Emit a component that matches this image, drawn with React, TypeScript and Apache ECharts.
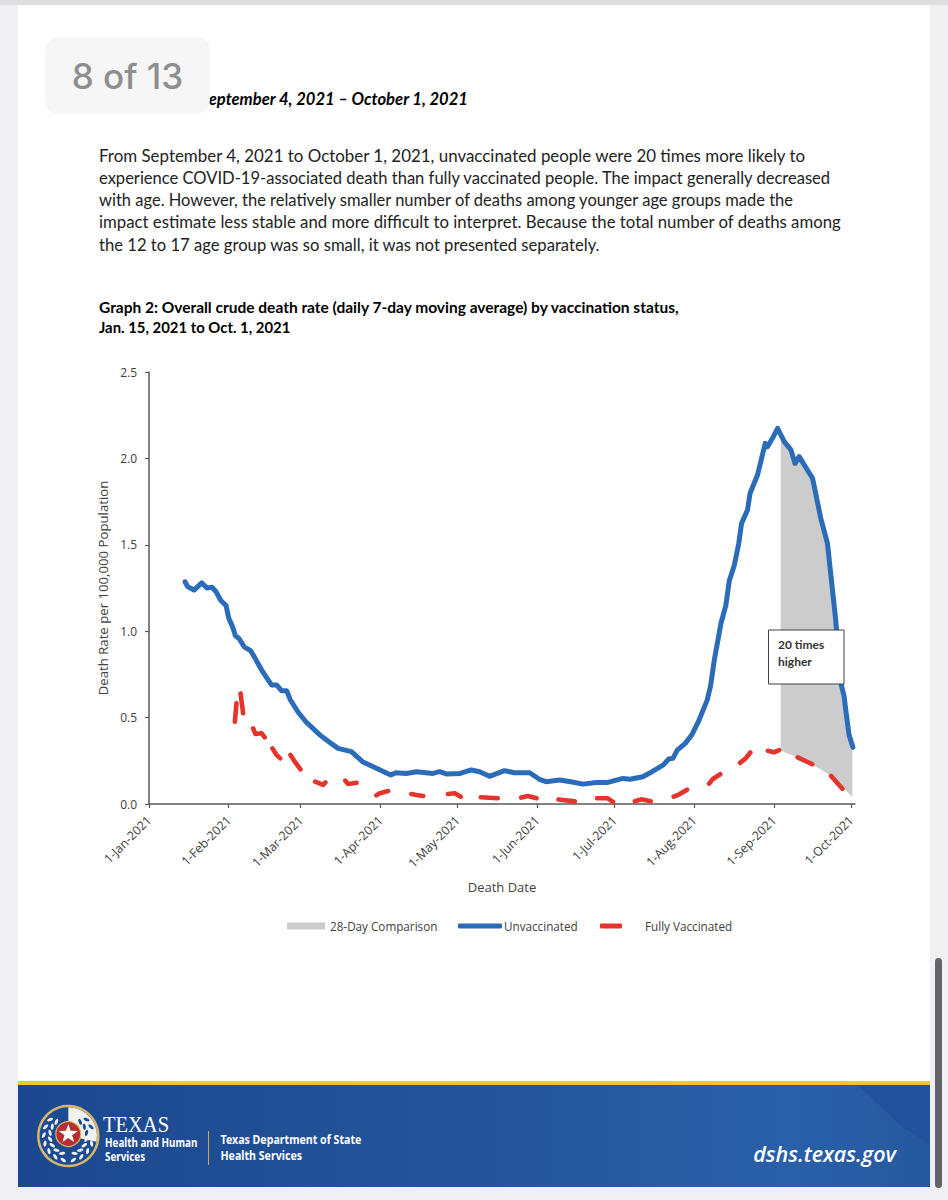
import React, { useEffect, useRef } from "react";
import * as echarts from "echarts";

// Days since 1 Jan 2021
const tickDays = [0, 31, 59, 90, 120, 151, 181, 212, 243, 273];
const tickLabels = ["1-Jan-2021", "1-Feb-2021", "1-Mar-2021", "1-Apr-2021", "1-May-2021", "1-Jun-2021", "1-Jul-2021", "1-Aug-2021", "1-Sep-2021", "1-Oct-2021"];
const unvaccinatedDays = [14, 15, 17.5, 20.5, 22.5, 24.5, 26, 28, 30, 31, 32.5, 33.6, 35, 37, 39.5, 41, 43.8, 47.6, 49.6, 51.5, 53.5, 55, 58, 61, 66.4, 69, 73.5, 78.7, 83, 88.4, 94, 96, 100, 104, 110.4, 113, 115.6, 121, 125.3, 128.5, 132.4, 138.2, 142, 148, 151.8, 154.4, 159.6, 164, 168.7, 174, 178.4, 184.3, 187, 192, 195.6, 200, 202, 203.7, 205.4, 208.5, 211, 213.6, 217, 218.3, 219.8, 222.4, 224.3, 225.6, 227.6, 229.3, 230.4, 232.7, 233.7, 236.6, 239.6, 240.5, 242.4, 244.4, 247, 249.6, 251.2, 252.8, 258, 261.2, 263.8, 267, 269, 270.3, 270.9, 272.2, 273.7];
const unvaccinatedRates = [1.286, 1.258, 1.238, 1.28, 1.25, 1.254, 1.23, 1.176, 1.148, 1.075, 1.026, 0.974, 0.958, 0.91, 0.887, 0.85, 0.775, 0.689, 0.689, 0.656, 0.656, 0.602, 0.531, 0.476, 0.4, 0.37, 0.322, 0.303, 0.245, 0.207, 0.168, 0.181, 0.177, 0.187, 0.177, 0.187, 0.174, 0.177, 0.197, 0.187, 0.16, 0.193, 0.181, 0.181, 0.143, 0.129, 0.139, 0.129, 0.115, 0.125, 0.125, 0.148, 0.143, 0.158, 0.187, 0.226, 0.26, 0.264, 0.312, 0.351, 0.399, 0.476, 0.6, 0.68, 0.833, 1.046, 1.15, 1.29, 1.383, 1.508, 1.624, 1.701, 1.798, 1.904, 2.087, 2.068, 2.116, 2.174, 2.097, 2.049, 1.971, 2.01, 1.885, 1.653, 1.508, 1.065, 0.7, 0.621, 0.544, 0.399, 0.328];
// The reference's dashes have an uneven rhythm, so each visible dash is read on its own; null marks a gap.
const vaccinatedDays = [33.4, 34, 34.8, 35.6, 36.6, 38.5, 40.5, 41.4, 43.8, 45, 46.5, 48, 49.6, 51, 53, 55, 56.7, 58.9, 61.5, 64.6, 67.7, 68.6, 72.5, 76.3, 77.4, 80.7, 84.5, 88.4, 89.7, 93, 97.5, 102, 104, 106.6, 111.5, 116.2, 118.9, 121.2, 125, 129, 135.6, 140, 144.7, 147.3, 150.7, 155, 159.2, 165.6, 170, 174.2, 178.4, 180.4, 184.5, 188.9, 191.4, 195.1, 199.5, 204, 206.2, 209.2, 213.5, 217.8, 219.1, 222.1, 226, 229.8, 232, 233.8, 237, 240.6, 243, 245, 248.5, 252.2, 257.9, 261.5, 265.2, 269.6];
const vaccinatedRates = [0.476, 0.583, null, 0.64, 0.525, null, 0.438, 0.405, 0.409, 0.386, null, 0.322, 0.284, 0.264, null, 0.284, 0.245, 0.2, null, 0.129, 0.11, 0.125, null, 0.135, 0.116, 0.123, null, 0.05, 0.062, 0.075, null, 0.058, 0.052, 0.046, null, 0.058, 0.062, 0.042, null, 0.039, 0.033, null, 0.037, 0.046, 0.033, null, 0.026, 0.015, null, 0.033, 0.033, 0.012, null, 0.016, 0.027, 0.016, null, 0.043, 0.056, 0.083, null, 0.118, 0.143, 0.172, null, 0.238, 0.264, 0.298, null, 0.308, 0.299, 0.312, null, 0.27, 0.23, null, 0.162, 0.088];
const comparisonDays = [245.6, 247, 249.6, 251.2, 252.8, 258, 261.2, 263.8, 267, 269, 270.3, 270.9, 272.2, 273.5];
const comparisonUpper = [2.13, 2.097, 2.049, 1.971, 2.01, 1.885, 1.653, 1.508, 1.065, 0.7, 0.621, 0.544, 0.399, 0.33];
const comparisonLower = [0.312, 0.3, 0.285, 0.274, 0.265, 0.226, 0.2, 0.175, 0.135, 0.1, 0.085, 0.078, 0.06, 0.039];
const bodyLines = [
  "From September 4, 2021 to October 1, 2021, unvaccinated people were 20 times more likely to",
  "experience COVID-19-associated death than fully vaccinated people. The impact generally decreased",
  "with age. However, the relatively smaller number of deaths among younger age groups made the",
  "impact estimate less stable and more difficult to interpret. Because the total number of deaths among",
  "the 12 to 17 age group was so small, it was not presented separately.",
];
const bodyLineY = [155.5, 177.5, 199.5, 221.5, 244.5];
const bodyLineScale = [1.004, 0.983, 0.98, 0.996, 0.988];

const BODY = "Lato, 'Open Sans', sans-serif";
const CHART_FONT = "'Open Sans', sans-serif";
const NAVY = "#1c4a93";
const starPoints = (cx: number, cy: number, R: number, r: number) =>
  Array.from({ length: 10 }, (_, i) => {
    const a = -Math.PI / 2 + (i * Math.PI) / 5;
    const q = i % 2 ? r : R;
    return [cx + q * Math.cos(a), cy + q * Math.sin(a)];
  });
const txt = (text: string, x: number, y: number, font: string, fill: string, extra: any = {}) => {
  const { z, scaleX, ...style } = extra;
  return {
    type: "text",
    z: z ?? 1,
    x,
    y,
    scaleX: scaleX ?? 1,
    style: { text, x: 0, y: 0, font, fill, textVerticalAlign: "middle", ...style },
  };
};

export default function App() {
  const ref = useRef<HTMLDivElement>(null);
  useEffect(() => {
    const chart = echarts.init(ref.current!, undefined, { renderer: "svg" });
    const CX = 68.3;
    const CY = 1136;
    const laurels: any[] = [];
    for (const side of [-1, 1]) {
      for (const R of [18.5, 24.5]) {
        for (let i = 0; i < 7; i++) {
          const deg = 40 + i * 20 + (R > 20 ? 8 : 0);
          const t = (Math.PI / 180) * deg;
          const onWhite = side > 0 && deg < 85;
          laurels.push({
            type: "ellipse",
            z: 2,
            x: CX + side * R * Math.sin(t),
            y: CY - R * Math.cos(t),
            rotation: side * (Math.PI / 2 - t + (R > 20 ? 0.45 : -0.45)),
            shape: { cx: 0, cy: 0, rx: 1.5, ry: 3.2 },
            style: { fill: onWhite ? NAVY : "#eef2f8" },
          });
        }
      }
    }
    chart.setOption({
      animation: false,
      backgroundColor: "#f0f0f3",
      textStyle: { fontFamily: CHART_FONT },
      grid: { left: 149, right: 93, top: 372, height: 432 },
      xAxis: {
        type: "value",
        min: 0,
        max: 274.5,
        name: "Death Date",
        nameLocation: "middle",
        nameGap: 76,
        nameTextStyle: { fontSize: 13, color: "#404040", fontFamily: CHART_FONT },
        splitLine: { show: false },
        axisLine: { onZero: false, lineStyle: { color: "#595959", width: 1.5 } },
        axisTick: { customValues: tickDays, length: 4, lineStyle: { color: "#595959", width: 1.2 } },
        axisLabel: {
          customValues: tickDays,
          rotate: 45,
          margin: 14,
          fontSize: 12.3,
          color: "#404040",
          formatter: (v: number) => tickLabels[tickDays.indexOf(Math.round(v))] ?? "",
        },
      },
      yAxis: {
        type: "value",
        min: 0,
        max: 2.5,
        interval: 0.5,
        name: "Death Rate per 100,000 Population",
        nameLocation: "middle",
        nameGap: 35,
        nameTextStyle: { fontSize: 13.2, color: "#404040", fontFamily: CHART_FONT },
        splitLine: { show: false },
        axisLine: { show: true, lineStyle: { color: "#595959", width: 1.5 } },
        axisTick: { show: true, length: 4, lineStyle: { color: "#595959", width: 1.2 } },
        axisLabel: { margin: 12, fontSize: 12, color: "#404040", formatter: (v: number) => v.toFixed(1) },
      },
      legend: [
        { data: ["28-Day Comparison"], left: 282, top: 915, itemWidth: 38, itemHeight: 7, itemGap: 0, icon: "rect", textStyle: { fontSize: 11.7, color: "#404040" } },
        { data: ["Unvaccinated"], left: 453, top: 915, itemWidth: 44, itemHeight: 5, icon: "roundRect", textStyle: { fontSize: 11.7, color: "#404040", padding: [0, 0, 0, -3] } },
        { data: ["Fully Vaccinated"], left: 595, top: 915, itemWidth: 22, itemHeight: 5, icon: "roundRect", textStyle: { fontSize: 11.7, color: "#404040", padding: [0, 0, 0, 18] } },
      ],
      series: [
        {
          type: "custom",
          name: "28-Day Comparison",
          itemStyle: { color: "#cccccc" },
          data: [[comparisonDays[0], comparisonLower[0]]],
          z: 1,
          renderItem: (_p: any, api: any) => {
            const up = comparisonDays.map((d, i) => api.coord([d, comparisonUpper[i]]));
            const low = comparisonDays.map((d, i) => api.coord([d, comparisonLower[i]])).reverse();
            return { type: "polygon", shape: { points: [...up, ...low] }, style: { fill: "#cccccc" } };
          },
        },
        {
          type: "line",
          name: "Unvaccinated",
          data: unvaccinatedDays.map((d, i) => [d, unvaccinatedRates[i]]),
          showSymbol: false,
          symbol: "none",
          z: 3,
          itemStyle: { color: "#2b6cb8" },
          lineStyle: { color: "#2b6cb8", width: 5, cap: "round", join: "round" },
        },
        {
          type: "line",
          name: "Fully Vaccinated",
          data: vaccinatedDays.map((d, i) => [d, vaccinatedRates[i]]),
          connectNulls: false,
          showSymbol: false,
          symbol: "none",
          z: 3,
          itemStyle: { color: "#e5342b" },
          lineStyle: { color: "#e5342b", width: 4.6, cap: "round", join: "round" },
        },
      ],
      graphic: [
        { type: "rect", z: -5, shape: { x: 18, y: 5, width: 912, height: 1182 }, style: { fill: "#ffffff" } },
        { type: "rect", z: -6, shape: { x: 0, y: 0, width: 948, height: 5 }, style: { fill: "#dedee1" } },
        { type: "rect", z: -6, shape: { x: 935, y: 958, width: 7, height: 230, r: 3.5 }, style: { fill: "#646468" } },
        txt("September 4, 2021 – October 1, 2021", 468, 99, `italic bold 16.6px ${BODY}`, "#000000", { textAlign: "right" }),
        { type: "rect", z: 60, shape: { x: 45, y: 37, width: 165, height: 77, r: 14 }, style: { fill: "#f6f6f6" } },
        txt("8 of 13", 127.5, 76, "500 35px Inter, sans-serif", "#8e8e8e", { textAlign: "center", z: 61 }),
        ...bodyLines.map((t, i) => txt(t, 99, bodyLineY[i], `16.85px ${BODY}`, "#222222", { scaleX: bodyLineScale[i] })),
        txt("Graph 2: Overall crude death rate (daily 7-day moving average) by vaccination status,", 99, 306.5, `bold 15.5px ${BODY}`, "#000000"),
        txt("Jan. 15, 2021 to Oct. 1, 2021", 99, 326.5, `bold 15.5px ${BODY}`, "#000000", { scaleX: 0.96 }),
        { type: "rect", z: 50, shape: { x: 768.5, y: 630, width: 75.5, height: 54 }, style: { fill: "#ffffff", stroke: "#404040", lineWidth: 1 } },
        txt("20 times", 778, 644, `bold 12px ${BODY}`, "#333333", { z: 51 }),
        txt("higher", 778, 661, `bold 12px ${BODY}`, "#333333", { z: 51 }),
        // footer
        { type: "rect", z: -4, shape: { x: 18, y: 1081, width: 912, height: 4 }, style: { fill: "#f6c437" } },
        {
          type: "rect", z: -4, shape: { x: 18, y: 1085, width: 912, height: 102 },
          style: { fill: { type: "linear", x: 0, y: 0, x2: 1, y2: 0, colorStops: [{ offset: 0, color: "#1b4890" }, { offset: 0.45, color: "#235399" }, { offset: 0.85, color: "#2a60a8" }, { offset: 1, color: "#25589f" }] } },
        },
        { type: "polygon", z: -3, shape: { points: [[858, 1085], [930, 1085], [930, 1145], [900, 1125]] }, style: { fill: "#22529b" } },
        { type: "circle", z: 1, shape: { cx: CX, cy: CY, r: 30 }, style: { fill: NAVY, stroke: "#d7b668", lineWidth: 2.5 } },
        { type: "sector", z: 1, shape: { cx: CX, cy: CY, r: 28.7, startAngle: -Math.PI / 2, endAngle: 0.2, clockwise: true }, style: { fill: "#f1f1ee" } },
        ...laurels,
        { type: "circle", z: 3, shape: { cx: CX, cy: 1134, r: 12.5 }, style: { fill: "#b5302f", stroke: "#d7b668", lineWidth: 1.2 } },
        { type: "polygon", z: 4, shape: { points: starPoints(CX, 1134, 10, 4) }, style: { fill: "#ffffff" } },
        txt("TEXAS", 103, 1124, "24px 'Liberation Serif', serif", "#ffffff", { scaleX: 0.855 }),
        txt("Health and Human", 105, 1142.5, "bold 12px 'Noto Sans', sans-serif", "#ffffff", { scaleX: 0.82 }),
        txt("Services", 105, 1156.5, "bold 12px 'Noto Sans', sans-serif", "#ffffff", { scaleX: 0.82 }),
        { type: "line", z: 1, shape: { x1: 208.5, y1: 1131, x2: 208.5, y2: 1165 }, style: { stroke: "#c9a94f", lineWidth: 1 } },
        txt("Texas Department of State", 220.5, 1139, "bold 12.5px 'Noto Sans', sans-serif", "#ffffff", { scaleX: 0.85 }),
        txt("Health Services", 220.5, 1155.5, "bold 12.5px 'Noto Sans', sans-serif", "#ffffff", { scaleX: 0.85 }),
        txt("dshs.texas.gov", 896, 1153, "italic 600 21.5px 'Open Sans', sans-serif", "#ffffff", { textAlign: "right" }),
      ],
    });
    return () => chart.dispose();
  }, []);
  return <div ref={ref} style={{ position: "absolute", left: 0, top: 0, width: 948, height: 1200 }} />;
}
